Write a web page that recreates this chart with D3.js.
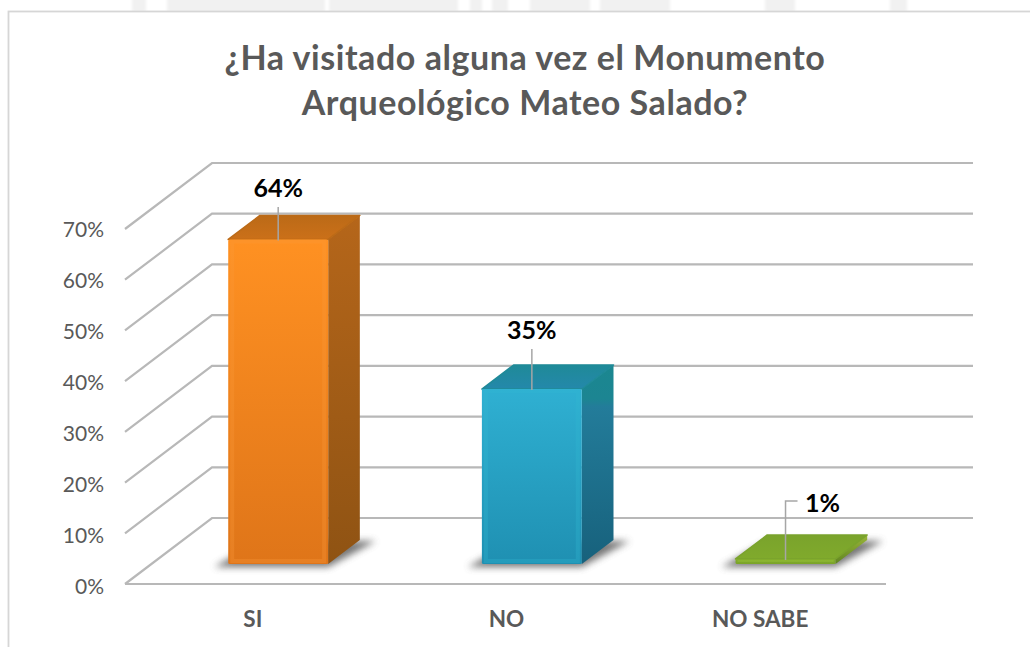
<!DOCTYPE html>
<html>
<head>
<meta charset="utf-8">
<script src="https://cdn.jsdelivr.net/npm/d3@7"></script>
<style>
  html, body { margin: 0; padding: 0; background: #fff; overflow: hidden; }
  text { font-family: Lato, "Open Sans", sans-serif; }
</style>
</head>
<body>
<div id="chart"></div>
<script>
var categories = ["SI", "NO", "NO SABE"];
var values = [64, 34.5, 1];
var valueLabels = ["64%", "35%", "1%"];
var yTicks = [0, 10, 20, 30, 40, 50, 60, 70];
var titleLines = ["¿Ha visitado alguna vez el Monumento", "Arqueológico Mateo Salado?"];

var svgWidth = 1030;
var svgHeight = 647;

var svg = d3.select("#chart")
  .append("svg")
  .attr("width", svgWidth)
  .attr("height", svgHeight)
  .style("display", "block");

var defs = svg.append("defs");

var blur = defs.append("filter").attr("id", "blur")
  .attr("x", "-30%").attr("y", "-60%").attr("width", "160%").attr("height", "220%");
blur.append("feGaussianBlur").attr("stdDeviation", 3.5);

var soft = defs.append("filter").attr("id", "soft")
  .attr("x", "-10%").attr("y", "-10%").attr("width", "120%").attr("height", "120%");
soft.append("feGaussianBlur").attr("stdDeviation", 0.5);

var hazy = defs.append("filter").attr("id", "hazy")
  .attr("x", "-20%").attr("y", "-20%").attr("width", "140%").attr("height", "140%");
hazy.append("feGaussianBlur").attr("stdDeviation", 1.5);

// colours per bar: front top/bottom, side stops, roof stops, edge highlight
var palette = [
  { front: ["#ff9122", "#df7519"],
    side: [[0, "#b5661a"], [1, "#8f5313"]],
    top: ["#bb6a17", "#cb7019"], edge: "#fb9a3a" },
  { front: ["#2fb0d2", "#1f90b2"],
    side: [[0, "#1b8790"], [0.17, "#1c8592"], [0.21, "#237c9a"], [1, "#17617c"]],
    top: ["#1f8a98", "#2488ab"], edge: "#33b8d2" },
  { front: ["#83ad2c", "#7aa428"],
    side: [[0, "#9ab53a"], [1, "#5f8520"]],
    top: ["#7aa32c", "#80aa2c"], edge: "#a2cc40" }
];

palette.forEach(function(p, i) {
  var g = defs.append("linearGradient").attr("id", "front" + i)
    .attr("x1", 0).attr("y1", 0).attr("x2", 0).attr("y2", 1);
  g.append("stop").attr("offset", "0%").attr("stop-color", p.front[0]);
  g.append("stop").attr("offset", "100%").attr("stop-color", p.front[1]);
  var s = defs.append("linearGradient").attr("id", "side" + i)
    .attr("x1", 0).attr("y1", 0).attr("x2", 0).attr("y2", 1);
  p.side.forEach(function(st) {
    s.append("stop").attr("offset", st[0]).attr("stop-color", st[1]);
  });
  var t = defs.append("linearGradient").attr("id", "roof" + i)
    .attr("x1", 0).attr("y1", 0).attr("x2", 0).attr("y2", 1);
  t.append("stop").attr("offset", "0%").attr("stop-color", p.top[0]);
  t.append("stop").attr("offset", "100%").attr("stop-color", p.top[1]);
});

// faint watermark showing above the chart frame
var watermark = [[132, 14], [167, 158], [329, 129], [470, 12], [492, 16], [530, 60], [600, 70], [765, 30], [890, 17]];
svg.append("g")
  .attr("filter", "url(#hazy)")
  .selectAll("rect")
  .data(watermark)
  .enter()
  .append("rect")
  .attr("x", d => d[0])
  .attr("y", -4)
  .attr("width", d => d[1])
  .attr("height", 16)
  .attr("fill", "#f1f1f1");

// chart frame, runs off the right and bottom of the page
svg.append("rect")
  .attr("x", 8.5)
  .attr("y", 11.5)
  .attr("width", 1040)
  .attr("height", 660)
  .attr("fill", "#fff")
  .attr("stroke", "#d6d6d6")
  .attr("stroke-width", 1.8);

svg.append("g")
  .selectAll("text")
  .data(titleLines)
  .enter()
  .append("text")
  .attr("x", 525)
  .attr("y", (d, i) => 70 + i * 45)
  .attr("text-anchor", "middle")
  .attr("font-size", "34px")
  .attr("letter-spacing", "0.55px")
  .attr("font-weight", "bold")
  .attr("fill", "#595959")
  .text(d => d);

var yScale = d3.scaleLinear().domain([0, 70]).range([584, 229]);
var yLabelScale = d3.scaleLinear().domain([0, 70]).range([587, 230]);
var xScale = d3.scaleBand().domain(categories).range([125, 886]);
var depthX = d3.scaleLinear().domain([0, 1]).range([0, 87]);
var depthY = d3.scaleLinear().domain([0, 1]).range([0, -66]);
var barWidth = xScale.bandwidth() * 0.394;
var barDepth = [0.303, 0.667];

function px(cat, offset, depth) {
  return xScale(cat) + xScale.bandwidth() / 2 + offset + depthX(depth);
}
function py(v, depth) {
  return yScale(v) + depthY(depth);
}

// gridlines: back wall and side wall
var grid = svg.append("g")
  .attr("stroke", "#b8b8b8")
  .attr("stroke-width", 2.2)
  .attr("fill", "none")
  .attr("filter", "url(#soft)");

grid.selectAll(".wall")
  .data(yTicks)
  .enter()
  .append("path")
  .attr("class", "wall")
  .attr("d", d => `M${125},${yScale(d)}L${125 + depthX(1)},${py(d, 1)}H${886 + depthX(1)}`);

grid.append("line")
  .attr("x1", 125)
  .attr("x2", 886)
  .attr("y1", yScale(0))
  .attr("y2", yScale(0));

var yAxis = d3.axisLeft(yLabelScale)
  .tickValues(yTicks)
  .tickSize(0)
  .tickPadding(21)
  .tickFormat(d => d + "%");

var yAxisGroup = svg.append("g")
  .attr("transform", "translate(125,0)")
  .call(yAxis);
yAxisGroup.select(".domain").remove();
yAxisGroup.selectAll("text")
  .attr("font-family", "Lato")
  .attr("font-size", "21px")
  .attr("fill", "#595959");

var xAxis = d3.axisBottom(xScale).tickSize(0).tickPadding(27);

var xAxisGroup = svg.append("g")
  .attr("transform", "translate(1,584)")
  .call(xAxis);
xAxisGroup.select(".domain").remove();
xAxisGroup.selectAll("text")
  .attr("font-family", "Lato")
  .attr("font-size", "22.5px")
  .attr("font-weight", "bold")
  .attr("fill", "#595959");

var rows = categories.map(function(c, i) {
  return { cat: c, value: values[i], label: valueLabels[i], i: i };
});

function poly(points) {
  return "M" + points.map(p => p.join(",")).join("L") + "Z";
}

var half = barWidth / 2;
var d0 = barDepth[0];
var d1 = barDepth[1];

var bars = svg.append("g")
  .selectAll("g")
  .data(rows)
  .enter()
  .append("g");

// soft floor shadow
bars.append("path")
  .attr("d", d => poly([
    [px(d.cat, -half - 14, d0), py(0, d0) + 3],
    [px(d.cat, half, d0), py(0, d0) + 3],
    [px(d.cat, half + 16, d1), py(0, d1) + 1],
    [px(d.cat, -half, d1), py(0, d1) + 1]
  ]))
  .attr("fill", "#555")
  .attr("opacity", 0.8)
  .attr("filter", "url(#blur)");

// side
bars.append("path")
  .attr("d", d => poly([
    [px(d.cat, half, d0), py(0, d0)],
    [px(d.cat, half, d1), py(0, d1)],
    [px(d.cat, half, d1), py(d.value, d1)],
    [px(d.cat, half, d0), py(d.value, d0)]
  ]))
  .attr("fill", d => `url(#side${d.i})`);

// roof
bars.append("path")
  .attr("d", d => poly([
    [px(d.cat, -half, d0), py(d.value, d0)],
    [px(d.cat, half, d0), py(d.value, d0)],
    [px(d.cat, half, d1), py(d.value, d1)],
    [px(d.cat, -half, d1), py(d.value, d1)]
  ]))
  .attr("fill", d => `url(#roof${d.i})`)
  .attr("stroke", d => palette[d.i].top[0])
  .attr("stroke-width", 1.5)
  .attr("stroke-linejoin", "round");

// front
bars.append("rect")
  .attr("x", d => px(d.cat, -half, d0))
  .attr("y", d => py(d.value, d0))
  .attr("width", barWidth)
  .attr("height", d => py(0, d0) - py(d.value, d0))
  .attr("rx", 1.5)
  .attr("fill", d => `url(#front${d.i})`);

// bevel highlight round the front face
bars.append("rect")
  .attr("x", d => px(d.cat, -half, d0) + 4)
  .attr("y", d => py(d.value, d0) + 2)
  .attr("width", barWidth - 8)
  .attr("height", d => Math.max(py(0, d0) - py(d.value, d0) - 5, 0))
  .attr("fill", "none")
  .attr("stroke", d => palette[d.i].edge)
  .attr("stroke-width", 4)
  .attr("opacity", 0.3)
  .attr("filter", "url(#soft)");

// leader lines
var leaderTop = [207, 349, 501];
bars.append("path")
  .attr("d", function(d) {
    var path = `M${px(d.cat, 0, d0)},${py(d.value, d0) + 1}V${leaderTop[d.i]}`;
    if (d.i == 2) path += "h12";
    return path;
  })
  .attr("fill", "none")
  .attr("stroke", "#a6a6a6")
  .attr("stroke-width", 1.5);

bars.append("text")
  .attr("x", d => px(d.cat, 0, d0) + (d.i == 2 ? 37 : 0))
  .attr("y", d => leaderTop[d.i] + (d.i == 2 ? 11 : -11))
  .attr("dy", d => d.i == 2 ? 0 : 1)
  .attr("text-anchor", "middle")
  .attr("font-size", "25px")
  .attr("font-weight", "bold")
  .attr("fill", "#000")
  .text(d => d.label);
</script>
</body>
</html>
